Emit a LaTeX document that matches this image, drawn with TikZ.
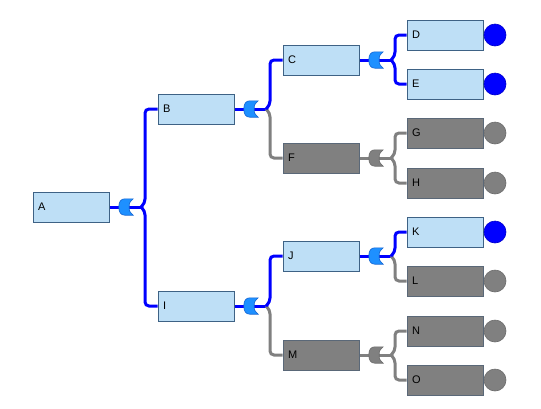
\documentclass[tikz,border=0pt]{standalone}
\usepackage{fontspec}
\setmainfont{Liberation Sans}
\usetikzlibrary{backgrounds}
\definecolor{boxfill}{RGB}{190,223,246}
\definecolor{boxline}{RGB}{62,98,133}
\definecolor{greyfill}{RGB}{128,128,128}
\definecolor{greyline}{RGB}{90,104,120}
\definecolor{lineblue}{RGB}{0,0,255}
\definecolor{linegrey}{RGB}{128,128,128}
\definecolor{gateblue}{RGB}{30,144,255}
\definecolor{gateblueline}{RGB}{20,100,210}
\definecolor{leafblue}{RGB}{0,0,255}
\newcommand\gateshape[3]{%
  \filldraw[fill=#2, draw=#3, line width=0.6pt]
    ([xshift=6pt]#1.north west) -- (#1.north east)
    .. controls ([xshift=-4pt,yshift=-4pt]#1.north east) .. ([xshift=-4pt]#1.east)
    .. controls ([xshift=-4pt,yshift=4pt]#1.south east) .. (#1.south east)
    -- ([xshift=6pt]#1.south west)
    .. controls ([xshift=2pt]#1.south west) and ([yshift=3pt]#1.south west) .. (#1.west)
    .. controls ([yshift=-3pt]#1.north west) and ([xshift=2pt]#1.north west) .. cycle;}
\begin{document}
\begin{tikzpicture}[x=1pt,y=-1pt,
  box/.style={draw=boxline, line width=1pt, fill=boxfill, minimum height=30pt,
    text width=66pt, inner xsep=5pt, inner ysep=0pt, align=left,
    font=\fontsize{11}{13}\selectfont},
  gbox/.style={box, fill=greyfill, draw=greyline},
  gatepos/.style={minimum width=14pt, minimum height=16pt, inner sep=0pt},
  leaf/.style={circle, minimum size=22pt, inner sep=0pt, fill=leafblue, draw=leafblue!80!black, line width=0.6pt},
  gleaf/.style={leaf, fill=greyfill, draw=greyfill!85!black},
  bl/.style={draw=lineblue, line width=3pt},
  gl/.style={draw=linegrey, line width=3pt},
  branch/.style={rounded corners=4pt}]
\useasboundingbox (0,0) rectangle (541,408);
% boxes
\node[box]  (A) at (71,207) {A};
\node[box]  (B) at (196,109) {B};
\node[box]  (I) at (196,306) {I};
\node[box]  (C) at (321,60) {C};
\node[gbox] (F) at (321,158) {F};
\node[box]  (J) at (321,256) {J};
\node[gbox] (M) at (321,355) {M};
\node[box]  (D) at (445,35) {D};
\node[box]  (E) at (445,84) {E};
\node[gbox] (G) at (445,133) {G};
\node[gbox] (H) at (445,183) {H};
\node[box]  (K) at (445,232) {K};
\node[gbox] (L) at (445,281) {L};
\node[gbox] (N) at (445,331) {N};
\node[gbox] (O) at (445,380) {O};
% gate positions and junctions
\node[gatepos] (gA) at (126,207) {};
\node[gatepos] (gB) at (251,109) {};
\node[gatepos] (gI) at (251,306) {};
\node[gatepos] (gC) at (376,60) {};
\node[gatepos] (gF) at (376,158) {};
\node[gatepos] (gJ) at (376,256) {};
\node[gatepos] (gM) at (376,355) {};
\coordinate (jA) at (141,207);
\coordinate (jB) at (266,109);
\coordinate (jI) at (266,306);
\coordinate (jC) at (391,60);
\coordinate (jF) at (391,158);
\coordinate (jJ) at (391,256);
\coordinate (jM) at (391,355);
% gates
\gateshape{gA}{gateblue}{gateblueline}
\gateshape{gB}{gateblue}{gateblueline}
\gateshape{gI}{gateblue}{gateblueline}
\gateshape{gC}{gateblue}{gateblueline}
\gateshape{gF}{greyfill}{greyfill!85!black}
\gateshape{gJ}{gateblue}{gateblueline}
\gateshape{gM}{greyfill}{greyfill!85!black}
% leaves
\node[leaf]  (lD) at (495,35) {};
\node[leaf]  (lE) at (495,84) {};
\node[gleaf] (lG) at (495,133) {};
\node[gleaf] (lH) at (495,183) {};
\node[leaf]  (lK) at (495,232) {};
\node[gleaf] (lL) at (495,281) {};
\node[gleaf] (lN) at (495,331) {};
\node[gleaf] (lO) at (495,380) {};
% connectors behind
\begin{pgfonlayer}{background}
\fill[white] (0,0) rectangle (541,408);
\draw[bl] (A.east) -- (gA.west);
\draw[bl] ([xshift=-4pt]gA.east) -- (jA);
\draw[bl,branch] (jA) -- ++(4,-4) |- (B.west);
\draw[bl,branch] (jA) -- ++(4,4) |- (I.west);
\draw[bl] (B.east) -- (gB.west);
\draw[bl] ([xshift=-4pt]gB.east) -- (jB);
\draw[gl,branch] (jB) -- ++(4,4) |- (F.west);
\draw[bl,branch] (jB) -- ++(4,-4) |- (C.west);
\draw[bl] (I.east) -- (gI.west);
\draw[bl] ([xshift=-4pt]gI.east) -- (jI);
\draw[gl,branch] (jI) -- ++(4,4) |- (M.west);
\draw[bl,branch] (jI) -- ++(4,-4) |- (J.west);
\draw[bl] (C.east) -- (gC.west);
\draw[bl] ([xshift=-4pt]gC.east) -- (jC);
\draw[bl,branch] (jC) -- ++(4,-4) |- (D.west);
\draw[bl,branch] (jC) -- ++(4,4) |- (E.west);
\draw[gl] (F.east) -- (gF.west);
\draw[gl] ([xshift=-4pt]gF.east) -- (jF);
\draw[gl,branch] (jF) -- ++(4,-4) |- (G.west);
\draw[gl,branch] (jF) -- ++(4,4) |- (H.west);
\draw[bl] (J.east) -- (gJ.west);
\draw[bl] ([xshift=-4pt]gJ.east) -- (jJ);
\draw[gl,branch] (jJ) -- ++(4,4) |- (L.west);
\draw[bl,branch] (jJ) -- ++(4,-4) |- (K.west);
\draw[gl] (M.east) -- (gM.west);
\draw[gl] ([xshift=-4pt]gM.east) -- (jM);
\draw[gl,branch] (jM) -- ++(4,-4) |- (N.west);
\draw[gl,branch] (jM) -- ++(4,4) |- (O.west);
\end{pgfonlayer}
\end{tikzpicture}
\end{document}
